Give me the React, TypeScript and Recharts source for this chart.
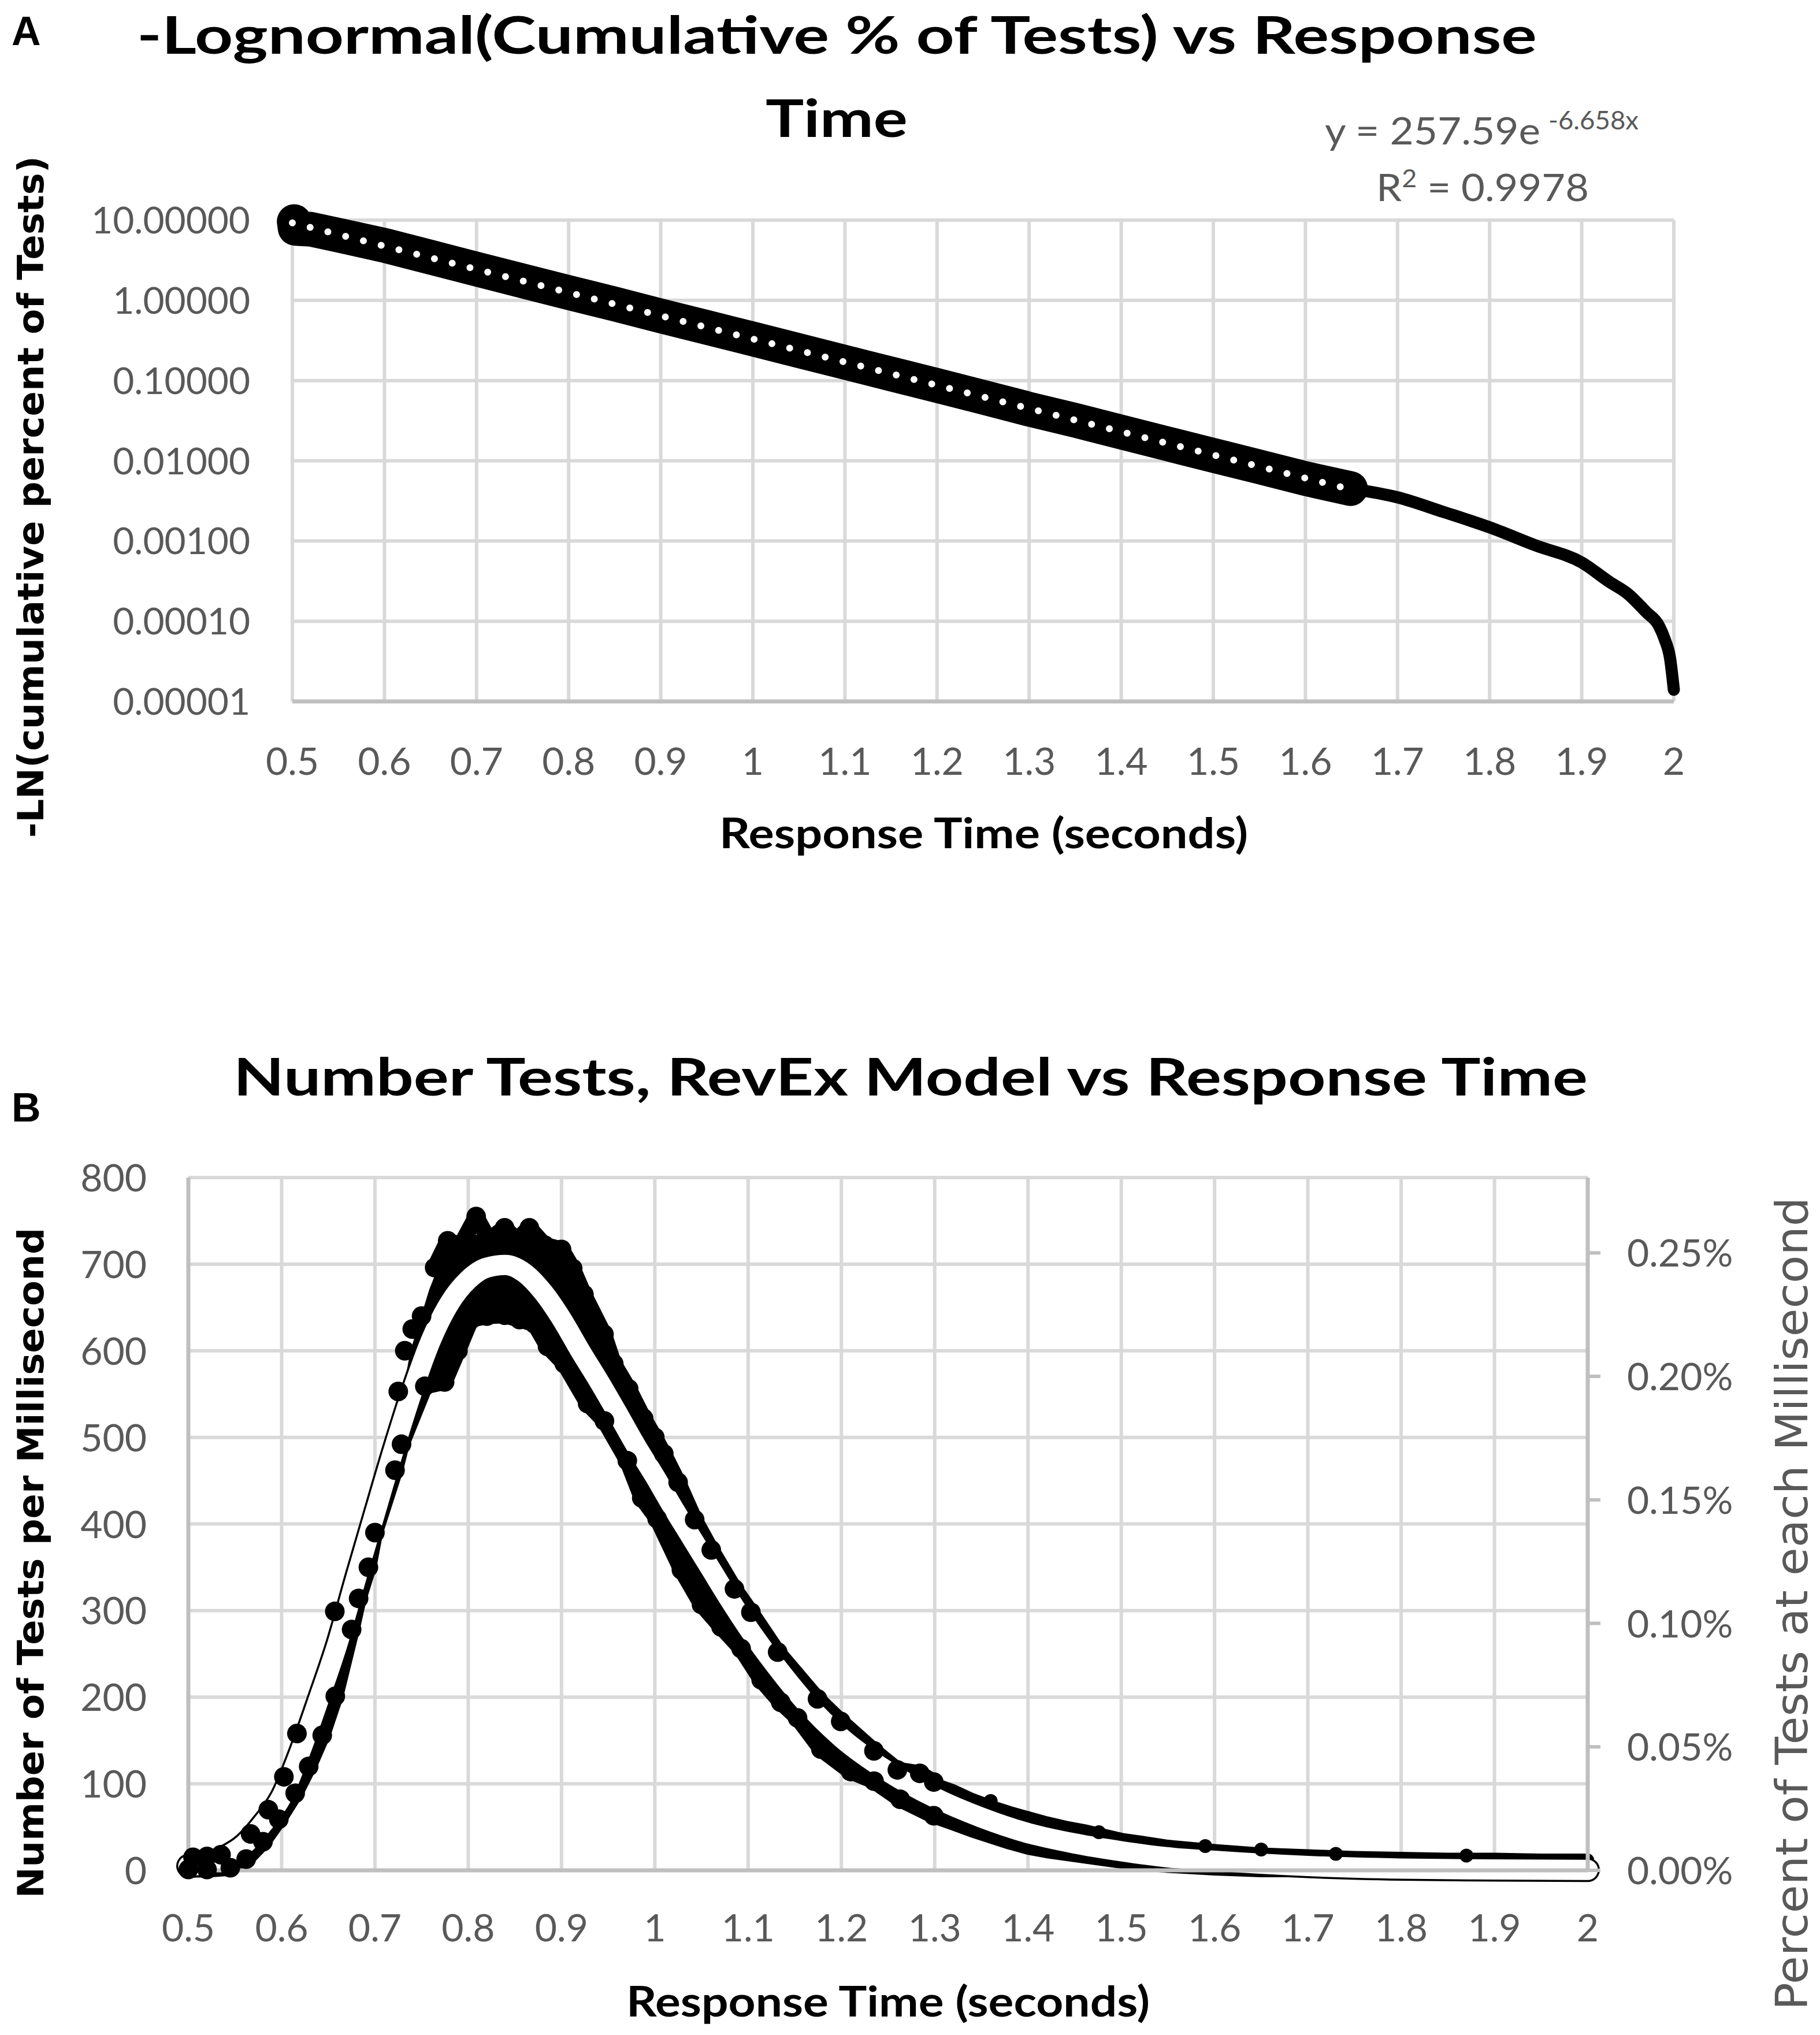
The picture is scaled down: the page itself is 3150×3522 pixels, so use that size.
import React from 'react';
import { ComposedChart, Line, Area, XAxis, YAxis, CartesianGrid } from 'recharts';

// ---------- shared ticks ----------
const timeTicks = [0.5, 0.6, 0.7, 0.8, 0.9, 1, 1.1, 1.2, 1.3, 1.4, 1.5, 1.6, 1.7, 1.8, 1.9, 2];
const timeTickLabels = ['0.5', '0.6', '0.7', '0.8', '0.9', '1', '1.1', '1.2', '1.3', '1.4', '1.5', '1.6', '1.7', '1.8', '1.9', '2'];
const logTicks = [0.00001, 0.0001, 0.001, 0.01, 0.1, 1, 10];
const logTickLabels = ['0.00001', '0.00010', '0.00100', '0.01000', '0.10000', '1.00000', '10.00000'];
const countTicks = [0, 100, 200, 300, 400, 500, 600, 700, 800];
const countTickLabels = ['0', '100', '200', '300', '400', '500', '600', '700', '800'];
const percentTicks = [0, 0.05, 0.1, 0.15, 0.2, 0.25];
const percentTickLabels = ['0.00%', '0.05%', '0.10%', '0.15%', '0.20%', '0.25%'];
const percentAxisMax = 0.2805;

// ---------- panel A: -ln(cumulative %) ----------
const bandTimes = [0.502, 0.503, 0.52, 0.55, 0.6, 0.65, 0.7, 0.75, 0.8, 0.85, 0.9, 0.95, 1.0, 1.05, 1.1, 1.15, 1.2, 1.25, 1.3, 1.35, 1.4, 1.45, 1.5, 1.55, 1.6, 1.649];
const bandValues = [9.6, 7.9, 7.7, 6.5, 4.85, 3.45, 2.45, 1.75, 1.25, 0.9, 0.64, 0.46, 0.33, 0.236, 0.169, 0.121, 0.087, 0.062, 0.044, 0.032, 0.0228, 0.0163, 0.0117, 0.0084, 0.006, 0.0045];
const tailTimes = [1.649, 1.7, 1.75, 1.8, 1.85, 1.9, 1.93, 1.95, 1.97, 1.984, 1.99, 1.996, 2.0];
const tailValues = [0.0045, 0.0035, 0.0023, 0.00148, 0.00088, 0.00054, 0.00031, 0.00022, 0.00013, 0.000087, 0.00006, 0.000034, 0.000014];
const trendTimes = [0.5, 1.655];
const trendValues = [9.23, 0.00422];

// ---------- panel B: number of tests per millisecond ----------
const modelTimes = [0.5, 0.52, 0.54, 0.56, 0.58, 0.6, 0.62, 0.64, 0.66, 0.68, 0.7, 0.72, 0.74, 0.76, 0.78, 0.8, 0.82, 0.84, 0.86, 0.88, 0.9, 0.92, 0.94, 0.96, 0.98, 1.0, 1.02, 1.04, 1.06, 1.08, 1.1, 1.12, 1.14, 1.16, 1.18, 1.2, 1.25, 1.3, 1.35, 1.4, 1.45, 1.5, 1.55, 1.6, 1.7, 1.8, 1.9, 2.0];
const modelCounts = [5, 8, 16, 30, 54, 85, 137, 198, 262, 338, 412, 485, 553, 612, 655, 682, 696, 699, 690, 668, 637, 600, 565, 528, 490, 455, 418, 383, 348, 313, 280, 250, 222, 196, 173, 153, 114, 84, 61, 43, 31, 22, 15, 11, 5, 2, 1, 0.5];

// upper / lower extent of the cloud of measured points
const cloudTimes = [0.5, 0.52, 0.54, 0.56, 0.58, 0.6, 0.62, 0.64, 0.66, 0.68, 0.7, 0.72, 0.74, 0.76, 0.78, 0.8, 0.82, 0.84, 0.86, 0.88, 0.9, 0.92, 0.94, 0.96, 0.98, 1.0, 1.02, 1.04, 1.06, 1.08, 1.1, 1.12, 1.14, 1.16, 1.18, 1.2, 1.22, 1.24, 1.26, 1.28, 1.3, 1.32, 1.34, 1.36, 1.38, 1.4, 1.42, 1.44, 1.46, 1.48, 1.5, 1.52, 1.55, 1.6, 1.65, 1.7, 1.75, 1.8, 1.85, 1.9, 1.95, 2.0];
const cloudHigh = [5, 8, 16, 30, 54, 85, 137, 198, 262, 338, 412, 485, 600, 670, 725, 735, 728, 742, 735, 722, 717, 672, 630, 578, 540, 500, 462, 410, 370, 335, 310, 272, 240, 215, 190, 173, 155, 135, 116, 110, 100, 90, 81, 73, 66, 60, 54, 49, 45, 41, 34, 31, 26, 22, 18, 16, 14, 13, 12, 12, 11, 11];
const cloudLow = [1, 1, 3, 11, 33, 60, 98, 146, 213, 295, 380, 458, 505, 557, 567, 630, 640, 641, 633, 608, 588, 548, 524, 485, 440, 410, 365, 320, 289, 265, 236, 208, 188, 165, 138, 122, 110, 100, 84, 72, 62, 54, 46, 40, 33, 26, 23, 20, 16, 13, 10, 8, 5, 2, 0, 0, 0, 0, 0, 0, 0, 0];

// points along the upper edge of the cloud (peak and falling side)
const upperTimes = [0.764, 0.778, 0.792, 0.8085, 0.822, 0.839, 0.852, 0.8655, 0.882, 0.9, 0.912, 0.924, 0.9455, 0.956, 0.972, 0.988, 1.0, 1.0096, 1.025, 1.0427, 1.0605, 1.0854, 1.103, 1.1317, 1.1744, 1.1993, 1.2349, 1.26, 1.284, 1.299];
const upperCounts = [696, 727, 722, 755, 728, 742, 728, 742, 722, 717, 695, 665, 619, 585, 556, 522, 500, 481, 448, 405, 370, 325, 298, 252, 198, 172, 138, 116, 112, 102];
// upper edge in the long tail
const upperTailTimes = [1.299, 1.32, 1.34, 1.36, 1.38, 1.4, 1.42, 1.44, 1.46, 1.48, 1.5, 1.52, 1.55, 1.6, 1.65, 1.7, 1.75, 1.8, 1.85, 1.9, 1.95, 2.0];
const upperTailCounts = [100, 92, 82, 74, 67, 61, 55, 50, 46, 41, 36, 33, 28, 23, 19, 17, 15, 14, 13, 13, 12, 12];
// isolated points above the rising side and small bumps in the tail
const risingTimes = [0.505, 0.52, 0.535, 0.5667, 0.5857, 0.6024, 0.6164, 0.657, 0.725, 0.732, 0.74, 0.75];
const risingCounts = [15, 16, 18, 42, 70, 108, 158, 299, 553, 600, 625, 640];
const bumpTimes = [1.36, 1.476, 1.59, 1.65, 1.73, 1.87];
const bumpCounts = [80, 44, 28, 24, 19, 17];
// points along the lower edge of the cloud
const lowerTimes = [0.5, 0.52, 0.545, 0.562, 0.58, 0.597, 0.6145, 0.629, 0.6435, 0.6575, 0.675, 0.6825, 0.693, 0.7, 0.7215, 0.7285, 0.7535, 0.7747, 0.789, 0.803, 0.82, 0.839, 0.855, 0.871, 0.885, 0.903, 0.928, 0.946, 0.9705, 0.986, 1.0025, 1.0285, 1.05, 1.071, 1.0925, 1.114, 1.135, 1.153, 1.178, 1.21, 1.235, 1.263, 1.299];
const lowerCounts = [1, 1, 3, 13, 33, 59, 89, 120, 156, 201, 278, 314, 350, 390, 462, 492, 559, 564, 600, 636, 640, 641, 636, 631, 605, 585, 539, 519, 473, 430, 406, 347, 307, 281, 256, 220, 194, 176, 140, 114, 103, 82, 63];
const lowerTailTimes = [1.299, 1.32, 1.34, 1.36, 1.38, 1.4, 1.42, 1.44, 1.46, 1.48, 1.5, 1.55, 1.6, 1.65, 1.7, 1.75, 1.8, 1.85];
const lowerTailCounts = [62, 54, 46, 39, 32, 26, 22, 19, 16, 13, 10, 5, 2, 0, 0, 0, 0, 0];

// ---------- helpers ----------
const pairs = (xs: number[], ys: number[]) => xs.map((x, i) => ({ x, y: ys[i] }));
const bandData = pairs(bandTimes, bandValues);
const tailData = pairs(tailTimes, tailValues);
const trendData = pairs(trendTimes, trendValues);
const modelData = pairs(modelTimes, modelCounts);
const upperData = pairs(upperTimes, upperCounts);
const upperTailData = pairs(upperTailTimes, upperTailCounts);
const risingData = pairs(risingTimes, risingCounts);
const bumpData = pairs(bumpTimes, bumpCounts);
const lowerData = pairs(lowerTimes, lowerCounts);
const lowerTailData = pairs(lowerTailTimes, lowerTailCounts);
const cloudData = cloudTimes.map((x, i) => ({ x, range: [cloudLow[i], cloudHigh[i]] }));

const TICK_FONT = 'Lato, "Open Sans", sans-serif';
const TITLE_FONT = 'Lato, "Open Sans", sans-serif';
const WIDE_FONT = '"DejaVu Sans", Verdana, sans-serif';
const GRAY = '#595959';

function labelFor(ticks: number[], labels: string[], v: number) {
  const i = ticks.findIndex((t) => Math.abs(t - v) <= Math.max(Math.abs(t), 1e-12) * 1e-6);
  return i >= 0 ? labels[i] : String(v);
}

function makeTick(ticks: number[], labels: string[], anchor: string, dx: number, dy: number, fs: number) {
  return (props: any) => {
    const { x, y, payload } = props;
    return (
      <text x={x + dx} y={y + dy} textAnchor={anchor} fontFamily={TICK_FONT} fontSize={fs} fill={GRAY}>
        {labelFor(ticks, labels, payload.value)}
      </text>
    );
  };
}

const GRID = '#d9d9d9';
const AXIS = '#bfbfbf';
const DOT = { r: 17, fill: '#000', stroke: 'none', strokeWidth: 0 };
const SMALL_DOT = { r: 12, fill: '#000', stroke: 'none', strokeWidth: 0 };

function ChartA() {
  return (
    <ComposedChart width={3150} height={1500} margin={{ top: 381, right: 253, bottom: 186, left: 0 }}>
      <CartesianGrid stroke={GRID} strokeWidth={6} fill="none" />
      <XAxis
        type="number"
        dataKey="x"
        domain={[0.5, 2]}
        ticks={timeTicks}
        interval={0}
        height={100}
        tickSize={0}
        tickMargin={0}
        tickLine={false}
        axisLine={{ stroke: AXIS, strokeWidth: 7 }}
        tick={makeTick(timeTicks, timeTickLabels, 'middle', 0, 127, 66)}
      />
      <YAxis
        type="number"
        scale="log"
        domain={[0.00001, 10]}
        ticks={logTicks}
        interval={0}
        width={506}
        tickSize={0}
        tickMargin={0}
        tickLine={false}
        axisLine={false}
        tick={makeTick(logTicks, logTickLabels, 'end', -73, 23, 64)}
      />
      <Line data={bandData} dataKey="y" type="linear" stroke="#000" strokeWidth={60} strokeLinecap="round" strokeLinejoin="round" dot={false} activeDot={false} isAnimationActive={false} />
      <Line data={tailData} dataKey="y" type="monotone" stroke="#000" strokeWidth={21} strokeLinecap="round" strokeLinejoin="round" dot={false} activeDot={false} isAnimationActive={false} />
      <Line data={trendData} dataKey="y" type="linear" stroke="#fff" strokeWidth={12} strokeLinecap="round" strokeDasharray="0 31.7" dot={false} activeDot={false} isAnimationActive={false} />
    </ComposedChart>
  );
}

function ChartB() {
  const lineProps = { yAxisId: 'left', dataKey: 'y', type: 'linear' as const, stroke: '#000', strokeLinecap: 'round' as const, strokeLinejoin: 'round' as const, activeDot: false, isAnimationActive: false };
  return (
    <ComposedChart width={3150} height={1772} margin={{ top: 288, right: 102, bottom: 185, left: 0 }}>
      <CartesianGrid yAxisId="left" stroke={GRID} strokeWidth={6} fill="none" />
      <XAxis
        type="number"
        dataKey="x"
        domain={[0.5, 2]}
        ticks={timeTicks}
        interval={0}
        height={100}
        tickSize={0}
        tickMargin={0}
        tickLine={false}
        axisLine={{ stroke: AXIS, strokeWidth: 7 }}
        tick={makeTick(timeTicks, timeTickLabels, 'middle', 0, 123, 66)}
      />
      <YAxis
        yAxisId="left"
        type="number"
        domain={[0, 800]}
        ticks={countTicks}
        interval={0}
        width={326}
        tickSize={0}
        tickMargin={0}
        tickLine={false}
        axisLine={{ stroke: AXIS, strokeWidth: 7 }}
        tick={makeTick(countTicks, countTickLabels, 'end', -72, 24, 66)}
      />
      <YAxis
        yAxisId="right"
        orientation="right"
        type="number"
        domain={[0, percentAxisMax]}
        allowDataOverflow
        ticks={percentTicks}
        interval={0}
        width={300}
        tickSize={22}
        tickMargin={0}
        tickLine={{ stroke: AXIS, strokeWidth: 6 }}
        axisLine={{ stroke: AXIS, strokeWidth: 7 }}
        tick={makeTick(percentTicks, percentTickLabels, 'start', 46, 24, 66)}
      />
      <Area yAxisId="left" data={cloudData} dataKey="range" type="linear" stroke="#000" strokeWidth={6} fill="#000" fillOpacity={1} dot={false} activeDot={false} isAnimationActive={false} />
      <Line {...lineProps} data={upperData} strokeWidth={28} dot={DOT} />
      <Line {...lineProps} data={upperTailData} strokeWidth={22} dot={false} />
      <Line {...lineProps} data={lowerData} strokeWidth={28} dot={DOT} />
      <Line {...lineProps} data={lowerTailData} strokeWidth={24} dot={false} />
      <Line {...lineProps} data={risingData} stroke="none" strokeWidth={0} dot={DOT} />
      <Line {...lineProps} data={bumpData} stroke="none" strokeWidth={0} dot={SMALL_DOT} />
      <Line {...lineProps} data={modelData} type="monotone" stroke="#000" strokeWidth={42} dot={false} />
      <Line {...lineProps} data={modelData} type="monotone" stroke="#fff" strokeWidth={35} dot={false} />
    </ComposedChart>
  );
}

function Texts() {
  const adj = 'spacingAndGlyphs';
  return (
    <svg width={3150} height={3522} style={{ position: 'absolute', left: 0, top: 0, pointerEvents: 'none' }}>
      <text x={20} y={78} fontFamily='"Liberation Sans", Arial, sans-serif' fontWeight="bold" fontSize={70} fill="#000">A</text>
      <text x={237} y={93} fontFamily={TITLE_FONT} fontWeight={700} fontSize={90} fill="#000" textLength={2423} lengthAdjust={adj}>-Lognormal(Cumulative % of Tests) vs Response</text>
      <text x={1325} y={237} fontFamily={TITLE_FONT} fontWeight={700} fontSize={90} fill="#000" textLength={246} lengthAdjust={adj}>Time</text>

      <text x={2293} y={250} fontFamily={TICK_FONT} fontSize={66} fill={GRAY} textLength={373} lengthAdjust={adj}>y = 257.59e</text>
      <text x={2680} y={224} fontFamily={TICK_FONT} fontSize={44} fill={GRAY} textLength={156} lengthAdjust={adj}>-6.658x</text>
      <text x={2382} y={348} fontFamily={TICK_FONT} fontSize={66} fill={GRAY} textLength={368} lengthAdjust={adj}>
        R<tspan dy={-24} fontSize={42}>2</tspan><tspan dy={24} fontSize={66}> = 0.9978</tspan>
      </text>

      <text x={1245} y={1468} fontFamily={TITLE_FONT} fontWeight={700} fontSize={72} fill="#000" textLength={915} lengthAdjust={adj}>Response Time (seconds)</text>
      <text transform="translate(75,1450) rotate(-90)" x={0} y={0} fontFamily={WIDE_FONT} fontWeight="bold" fontSize={63} fill="#000" textLength={1180} lengthAdjust={adj}>-LN(cumulative percent of Tests)</text>

      <text x={20} y={1941} fontFamily='"Liberation Sans", Arial, sans-serif' fontWeight="bold" fontSize={70} fill="#000">B</text>
      <text x={404} y={1896} fontFamily={TITLE_FONT} fontWeight={700} fontSize={90} fill="#000" textLength={2344} lengthAdjust={adj}>Number Tests, RevEx Model vs Response Time</text>
      <text x={1084} y={3490} fontFamily={TITLE_FONT} fontWeight={700} fontSize={72} fill="#000" textLength={906} lengthAdjust={adj}>Response Time (seconds)</text>
      <text transform="translate(75,3285) rotate(-90)" x={0} y={0} fontFamily={WIDE_FONT} fontWeight="bold" fontSize={63} fill="#000" textLength={1160} lengthAdjust={adj}>Number of Tests per Millisecond</text>
      <text transform="translate(3128,3479) rotate(-90)" x={0} y={0} fontFamily={WIDE_FONT} fontSize={76} fill={GRAY} textLength={1407} lengthAdjust={adj}>Percent of Tests at each Millisecond</text>
    </svg>
  );
}

export default function App() {
  return (
    <div style={{ position: 'absolute', left: 0, top: 0, width: 3150, height: 3522, background: '#fff', overflow: 'hidden' }}>
      <div style={{ position: 'absolute', left: 0, top: 0 }}>
        <ChartA />
      </div>
      <div style={{ position: 'absolute', left: 0, top: 1750 }}>
        <ChartB />
      </div>
      <Texts />
    </div>
  );
}
